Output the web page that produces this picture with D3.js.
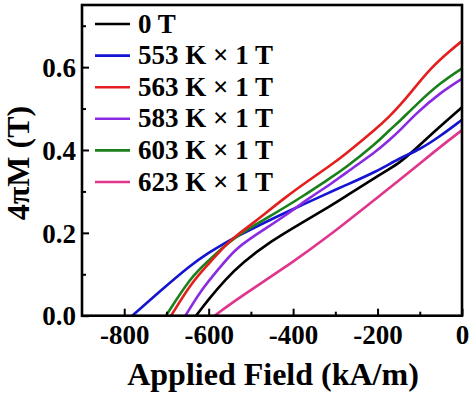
<!DOCTYPE html>
<html>
<head>
<meta charset="utf-8">
<script src="https://cdn.jsdelivr.net/npm/d3@7"></script>
<style>
  html, body { margin: 0; padding: 0; background: #fff; }
  svg { display: block; }
  text { font-family: "Liberation Serif", "Times New Roman", serif; font-weight: bold; fill: #000; }
</style>
</head>
<body>
<svg id="chart" width="474" height="397"></svg>
<script>
// ---- data ----
const seriesNames = ["0 T", "553 K \u00d7 1 T", "563 K \u00d7 1 T", "583 K \u00d7 1 T", "603 K \u00d7 1 T", "623 K \u00d7 1 T"];
const seriesColors = ["#000000", "#1414d2", "#e41e1e", "#8a2be2", "#1a801a", "#e0358d"];

const field0T  = [-630, -600, -560, -520, -456, -377, -313, -282, -202, -147, -115, -52, 0];
const mag0T    = [0, 0.04, 0.088, 0.128, 0.178, 0.226, 0.264, 0.284, 0.336, 0.369, 0.398, 0.457, 0.503];

const field553 = [-781, -721, -642, -600, -563, -535, -456, -377, -313, -282, -202, -147, -100, -52, 0];
const mag553   = [0, 0.054, 0.123, 0.152, 0.175, 0.19, 0.231, 0.268, 0.298, 0.312, 0.348, 0.381, 0.401, 0.433, 0.473];

const field563 = [-689, -642, -602, -563, -539, -495, -416, -361, -313, -282, -202, -171, -147, -120, -76, -28, 0];
const mag563   = [0, 0.078, 0.123, 0.167, 0.19, 0.223, 0.288, 0.328, 0.362, 0.385, 0.452, 0.482, 0.508, 0.54, 0.596, 0.64, 0.663];

const field583 = [-655, -618, -578, -539, -495, -416, -361, -313, -282, -202, -171, -147, -108, -52, 0];
const mag583   = [0, 0.062, 0.111, 0.159, 0.191, 0.243, 0.285, 0.316, 0.340, 0.397, 0.425, 0.447, 0.489, 0.538, 0.572];

const field603 = [-701, -642, -602, -539, -456, -377, -313, -282, -202, -171, -147, -108, -52, 0];
const mag603   = [0, 0.094, 0.131, 0.191, 0.239, 0.288, 0.332, 0.352, 0.417, 0.449, 0.47, 0.51, 0.562, 0.597];

const field623 = [-586, -539, -385, -313, -274, -202, -147, -60, 0];
const mag623   = [0, 0.036, 0.14, 0.195, 0.226, 0.284, 0.328, 0.401, 0.448];

const xMajorTicks = [-800, -600, -400, -200, 0];
const xMinorTicks = [-700, -500, -300, -100];
const yMajorTicks = [0.0, 0.2, 0.4, 0.6];
const yMinorTicks = [0.1, 0.3, 0.5, 0.7];

const xTitle = "Applied Field (kA/m)";
const yTitle = "4\u03c0M (T)";

const fields = [field0T, field553, field563, field583, field603, field623];
const mags = [mag0T, mag553, mag563, mag583, mag603, mag623];

// ---- layout ----
const svg = d3.select("#chart");
const L = 82, R = 462, T = 5, B = 315.7;

const x = d3.scaleLinear().domain([-900, 0]).range([L, R]);
const y = d3.scaleLinear().domain([0, 0.75]).range([B, T]);

svg.append("defs").append("clipPath").attr("id", "clip")
  .append("rect").attr("x", L).attr("y", T).attr("width", R - L).attr("height", B - T);

// curves
const line = d3.line().x(d => x(d[0])).y(d => y(d[1])).curve(d3.curveBasis);
const drawOrder = [5, 0, 1, 3, 4, 2];
const gCurves = svg.append("g").attr("clip-path", "url(#clip)");
drawOrder.forEach(i => {
  const pts = fields[i].map((f, k) => [f, mags[i][k]]);
  gCurves.append("path").datum(pts)
    .attr("d", line)
    .attr("fill", "none")
    .attr("stroke", seriesColors[i])
    .attr("stroke-width", 2.6)
    .attr("stroke-linejoin", "round");
});

// axes (inward ticks)
const xAxisMajor = d3.axisBottom(x).tickValues(xMajorTicks).tickSize(-7).tickPadding(0).tickFormat(d3.format("d"));
const gx = svg.append("g").attr("transform", `translate(0,${B})`).call(xAxisMajor);
gx.select(".domain").remove();
gx.selectAll(".tick line").attr("stroke", "#000").attr("stroke-width", 2);
gx.selectAll(".tick text").attr("font-size", 27).attr("dy", "28px").attr("y", 0)
  .text(d => d === 0 ? "0" : String(d).replace("\u2212", "-"));

const gxm = svg.append("g").attr("transform", `translate(0,${B})`)
  .call(d3.axisBottom(x).tickValues(xMinorTicks).tickSize(-4).tickFormat(""));
gxm.select(".domain").remove();
gxm.selectAll(".tick line").attr("stroke", "#000").attr("stroke-width", 2);

const yAxisMajor = d3.axisLeft(y).tickValues(yMajorTicks).tickSize(-7).tickPadding(6).tickFormat(d3.format(".1f"));
const gy = svg.append("g").attr("transform", `translate(${L},0)`).call(yAxisMajor);
gy.select(".domain").remove();
gy.selectAll(".tick line").attr("stroke", "#000").attr("stroke-width", 2);
gy.selectAll(".tick text").attr("font-size", 27).attr("x", -6).attr("dy", "0.34em");

const gym = svg.append("g").attr("transform", `translate(${L},0)`)
  .call(d3.axisLeft(y).tickValues(yMinorTicks).tickSize(-4).tickFormat(""));
gym.select(".domain").remove();
gym.selectAll(".tick line").attr("stroke", "#000").attr("stroke-width", 2);

// frame
svg.append("rect").attr("x", L).attr("y", T).attr("width", R - L).attr("height", B - T)
  .attr("fill", "none").attr("stroke", "#000").attr("stroke-width", 2.6);

// titles
svg.append("text").attr("x", (L + R) / 2 + 1).attr("y", 385)
  .attr("text-anchor", "middle").attr("font-size", 32).text(xTitle);
svg.append("text").attr("transform", "translate(29,163) rotate(-90)")
  .attr("text-anchor", "middle").attr("font-size", 32).text(yTitle);

// legend
const legend = svg.append("g");
seriesNames.forEach((name, i) => {
  const yy = 24 + i * 31.6;
  legend.append("line").attr("x1", 95).attr("x2", 130).attr("y1", yy).attr("y2", yy)
    .attr("stroke", seriesColors[i]).attr("stroke-width", 2.6);
  legend.append("text").attr("x", 138).attr("y", yy + 8.5).attr("font-size", 27).text(name);
});
</script>
</body>
</html>
